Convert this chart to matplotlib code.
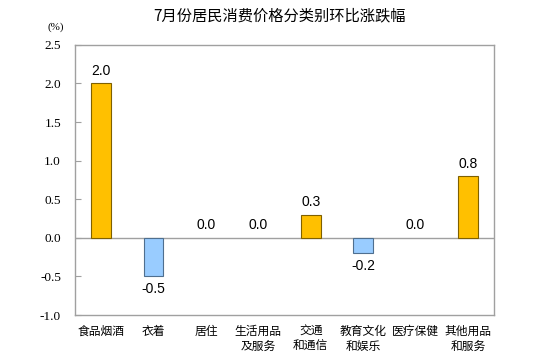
import matplotlib
matplotlib.use("Agg")
import matplotlib.pyplot as plt
import numpy as np

categories = ["食品烟酒", "衣着", "居住", "生活用品\n及服务", "交通\n和通信", "教育文化\n和娱乐", "医疗保健", "其他用品\n和服务"]
values = [2.0, -0.5, 0.0, 0.0, 0.3, -0.2, 0.0, 0.8]
yticks = [-1.0, -0.5, 0.0, 0.5, 1.0, 1.5, 2.0, 2.5]
title = "7月份居民消费价格分类别环比涨跌幅"

cjk = ["Noto Sans CJK SC", "DejaVu Sans"]

fig = plt.figure(figsize=(5.59, 3.56), dpi=100)
ax = fig.add_axes([0.134, 0.115, 0.750, 0.759])

x = np.arange(len(categories))
colors = ["#FFC000" if v >= 0 else "#99CCFF" for v in values]
edges = [("#7F6000" if v > 0 else "#4F6F8F") if v != 0 else "none" for v in values]
ax.bar(x, values, width=0.38, color=colors, edgecolor=edges, linewidth=0.8, zorder=3)
ax.axhline(0, color="#A0A0A0", linewidth=1, zorder=2)

for xi, v in zip(x, values):
    if v >= 0:
        ax.text(xi, v + 0.07, f"{v:.1f}", ha="center", va="bottom", fontsize=10, family="Liberation Sans")
    else:
        ax.text(xi, v - 0.07, f"{v:.1f}", ha="center", va="top", fontsize=10, family="Liberation Sans")

ax.set_xlim(-0.5, len(categories) - 0.5)
ax.set_ylim(-1.0, 2.5)
ax.set_yticks(yticks)
ax.set_yticklabels([f"{t:.1f}" for t in yticks], family="Liberation Serif", fontsize=9.5)
ax.set_xticks(x)
ax.set_xticklabels(categories, family=cjk, fontsize=8.5, linespacing=1.25, va="top")
ax.tick_params(axis="x", length=0, pad=7)
ax.tick_params(axis="y", direction="in", length=4, color="#A0A0A0", pad=10)
for s in ax.spines.values():
    s.set_color("#A0A0A0")
    s.set_linewidth(1)

fig.text(0.5, 0.955, title, ha="center", va="center", fontsize=11, family=cjk)
fig.text(0.1, 0.925, "(%)", ha="center", va="center", fontsize=8, family="Liberation Serif")

fig.savefig("out.png", dpi=100)
